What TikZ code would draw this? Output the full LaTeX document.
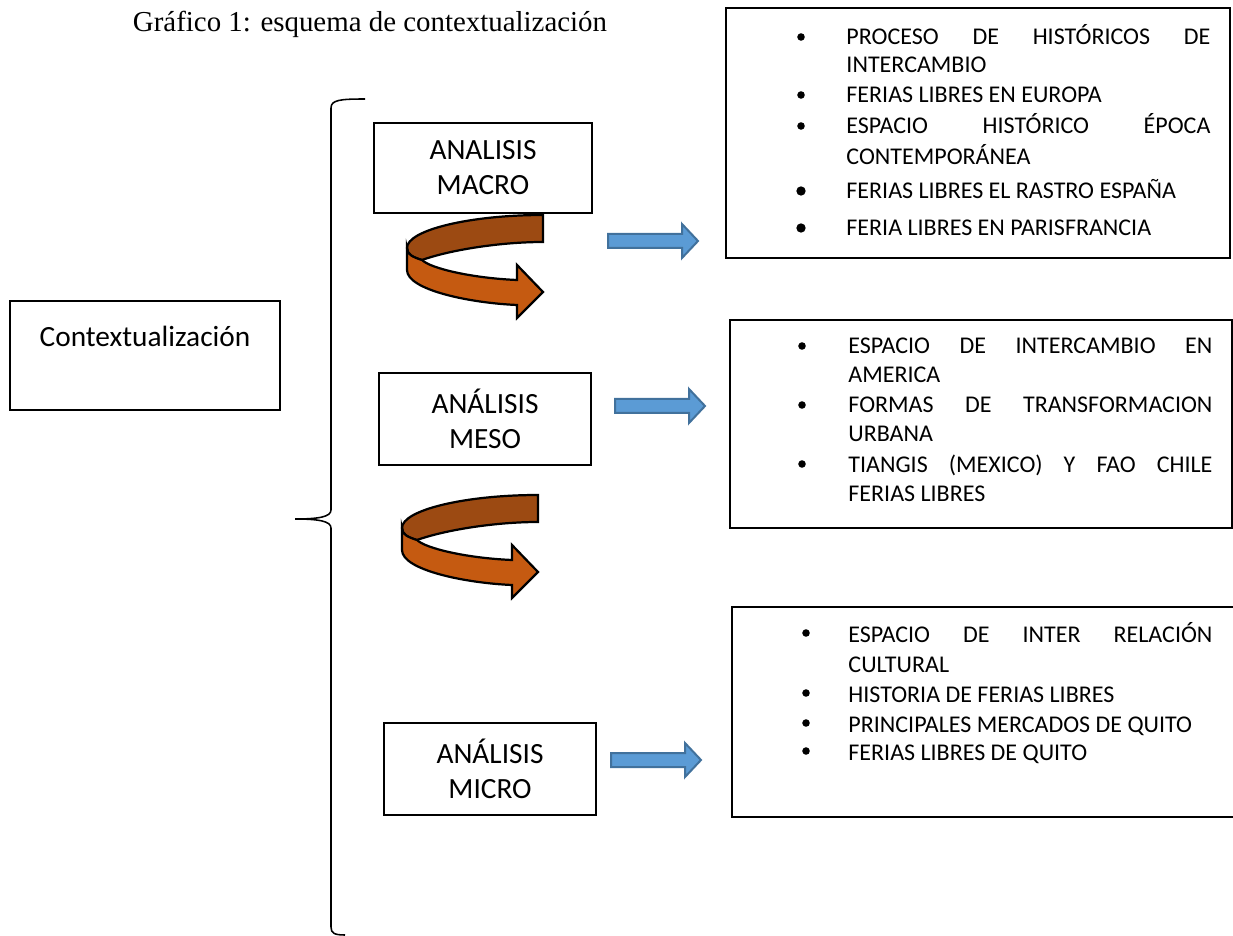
\documentclass[tikz,border=0pt]{standalone}
\usepackage{fontspec}
\setmainfont{Carlito}
\newfontfamily\titlefont{Liberation Serif}

\definecolor{backbrown}{HTML}{9C4A12}
\definecolor{frontorange}{HTML}{C55A11}
\definecolor{arrowblue}{HTML}{5B9BD5}
\definecolor{arrowedge}{HTML}{41719C}

\newcommand{\itemwidth}{163.8pt}

\tikzset{
  box/.style={draw, line width=1pt, inner sep=0pt, align=center,
    font=\fontsize{13.2}{15.8}\selectfont},
  boxlabel/.style={anchor=base, inner sep=0pt, font=\fontsize{13.2}{15.8}\selectfont},
  item/.style={anchor=base west, inner sep=0pt, font=\fontsize{10.8}{13}\selectfont},
  dot/.style={circle, fill, inner sep=0pt, minimum size=3.4pt},
  bigdot/.style={circle, fill, inner sep=0pt, minimum size=4.2pt},
  bluearrow/.style={fill=arrowblue, draw=arrowedge, line width=0.9pt, line join=miter},
}

\begin{document}
\begin{tikzpicture}[x=0.45pt, y=-0.45pt]
  \useasboundingbox (0,0) rectangle (1233,936);

  \node[anchor=base, inner sep=0pt, font=\titlefont\fontsize{13}{15}\selectfont] (title) at (370,32)
    {Gráfico 1: esquema de contextualización};

  % left box and brace
  \node[box, minimum width=121.5pt, minimum height=49pt] (ctx) at (145,355.5) {};
  \node[boxlabel] (ctxlabel) at (145,347) {Contextualización};

  \draw[line width=0.7pt] (365,99) .. controls (340,99) and (331,100) .. (331,108)
    -- (331,510) .. controls (331,517) and (318,519) .. (295,519)
    .. controls (318,519) and (331,521) .. (331,528)
    -- (331,927) .. controls (331,933) and (334,935) .. (345,935);

  % levels of analysis
  \node[box, minimum width=98.1pt, minimum height=40.5pt] (macro) at (483,168) {ANALISIS\\MACRO};
  \node[box, minimum width=95.4pt, minimum height=41.4pt] (meso) at (485,419) {ANÁLISIS\\MESO};
  \node[box, minimum width=95.4pt, minimum height=41.4pt] (micro) at (490,769) {ANÁLISIS\\MICRO};

  % turning arrows
  \foreach \sx/\sy in {0/0, -5/280} {
    \begin{scope}[shift={(\sx,\sy)}, line width=1pt, line join=miter]
      \draw[fill=backbrown] (543,215) .. controls (470,215) and (407,230) .. (407,248)
        .. controls (407,254) and (412,257) .. (422,260)
        .. controls (450,250) and (500,242) .. (543,242) -- cycle;
      \draw[fill=frontorange] (407,248) -- (407,270)
        .. controls (407,290) and (470,303) .. (517,305)
        -- (517,318) -- (543,292) -- (517,265) -- (517,280)
        .. controls (470,278) and (430,268) .. (422,260)
        .. controls (412,257) and (407,254) .. (407,248) -- cycle;
    \end{scope}
  }

  % block arrows
  \foreach \ax/\ay in {608/241, 615/406, 611/760}
    \draw[bluearrow] (\ax,\ay-7) -- ++(74,0) -- ++(0,-10) -- ++(16,17)
      -- ++(-16,17) -- ++(0,-10) -- ++(-74,0) -- cycle;

  % lists
  \node[box, minimum width=226.8pt, minimum height=112.5pt] (macrolist) at (978,133) {};
  \node[box, minimum width=225.9pt, minimum height=93.6pt] (mesolist) at (981,424) {};
  \node[box, minimum width=228.6pt, minimum height=94.5pt] (microlist) at (986,712) {};

  \foreach \yy in {45,103,134}
    \node[dot] at (801,\yy-8) {};
  \foreach \yy in {199,236}
    \node[bigdot] at (801,\yy-8) {};
  \foreach \yy/\txt in {45/{\makebox[\itemwidth][s]{PROCESO DE HISTÓRICOS DE}},
      73/INTERCAMBIO, 103/FERIAS LIBRES EN EUROPA,
      134/{\makebox[\itemwidth][s]{ESPACIO HISTÓRICO ÉPOCA}},
      165/CONTEMPORÁNEA, 199/FERIAS LIBRES EL RASTRO ESPAÑA,
      236/FERIA LIBRES EN PARISFRANCIA}
    \node[item] at (846,\yy) {\txt};

  \foreach \yy in {354,413,472}
    \node[dot] at (802,\yy-8) {};
  \foreach \yy/\txt in {354/{\makebox[\itemwidth][s]{ESPACIO DE INTERCAMBIO EN}},
      383/AMERICA, 413/{\makebox[\itemwidth][s]{FORMAS DE TRANSFORMACION}},
      442/URBANA, 472/{\makebox[\itemwidth][s]{TIANGIS (MEXICO) Y FAO CHILE}},
      501/FERIAS LIBRES}
    \node[item] at (848,\yy) {\txt};

  \foreach \yy in {642,702,732,760}
    \node[dot] at (806,\yy-9) {};
  \foreach \yy/\txt in {642/{\makebox[\itemwidth][s]{ESPACIO DE INTER RELACIÓN}},
      672/CULTURAL, 702/HISTORIA DE FERIAS LIBRES,
      732/PRINCIPALES MERCADOS DE QUITO, 760/FERIAS LIBRES DE QUITO}
    \node[item] at (848,\yy) {\txt};
\end{tikzpicture}
\end{document}
